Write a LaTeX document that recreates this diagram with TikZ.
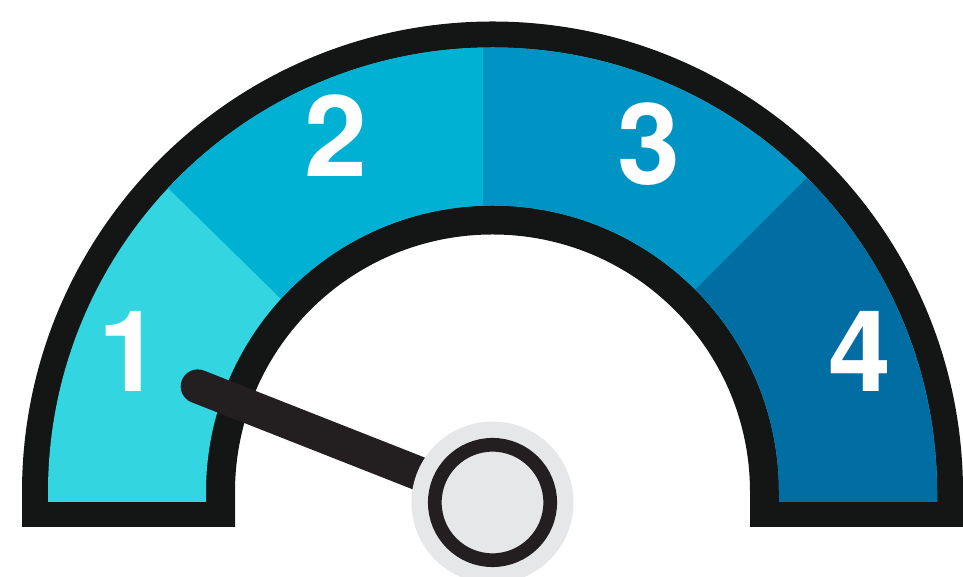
\documentclass[tikz,border=0pt]{standalone}
\usepackage{fontspec}
\setmainfont{TeX Gyre Heros}
\definecolor{segA}{RGB}{51,214,224}
\definecolor{segB}{RGB}{0,177,211}
\definecolor{segC}{RGB}{0,148,196}
\definecolor{segD}{RGB}{0,109,163}
\definecolor{rim}{RGB}{20,22,21}
\definecolor{needle}{RGB}{35,31,32}
\definecolor{hubgray}{RGB}{230,231,232}
\tikzset{
  digit/.style={text=white,font=\fontsize{113}{113}\selectfont\bfseries,inner sep=0pt,anchor=center},
}
\begin{document}
\begin{tikzpicture}[x=1pt,y=1pt]
\useasboundingbox (0,0) rectangle (963,577);
% black rim
\fill[rim] (22,50) -- (22,85) arc[start angle=180,end angle=0,radius=470.5]
  -- (963,50) -- (750,50) -- (750,85) arc[start angle=0,end angle=180,radius=257.5]
  -- (235,50) -- cycle;
% coloured band
\begin{scope}
\clip (48,75) -- (48,85) arc[start angle=180,end angle=0,radius=444.5]
  -- (937,75) -- (779,75) -- (779,85) arc[start angle=0,end angle=180,radius=286.5]
  -- (206,75) -- cycle;
\fill[segA] (0,0) rectangle (963,577);
\fill[segB] (56,499) -- (200,650) -- (483,650) -- (483,150) -- (336,224) -- cycle;
\fill[segC] (483,85) -- (483,650) -- (1057.5,650) -- (492.5,85) -- cycle;
\fill[segD] (492.5,85) -- (1100,692.5) -- (1100,0) -- (492.5,0) -- cycle;
\end{scope}
% digits
\node[digit] (d1) at (130,225.5) {1};
\node[digit] (d2) at (335.5,441.5) {2};
\node[digit] (d3) at (649,433) {3};
\node[digit] (d4) at (860,225.5) {4};
% needle and hub
\coordinate (tip) at (197.7,190.6);
\coordinate (hub) at (492.5,74.5);
\draw[needle,line width=34pt,line cap=round] (tip) -- (hub);
\fill[hubgray] (hub) circle[radius=81];
\draw[needle,line width=13.7pt] (hub) circle[radius=57.7];
\end{tikzpicture}
\end{document}
